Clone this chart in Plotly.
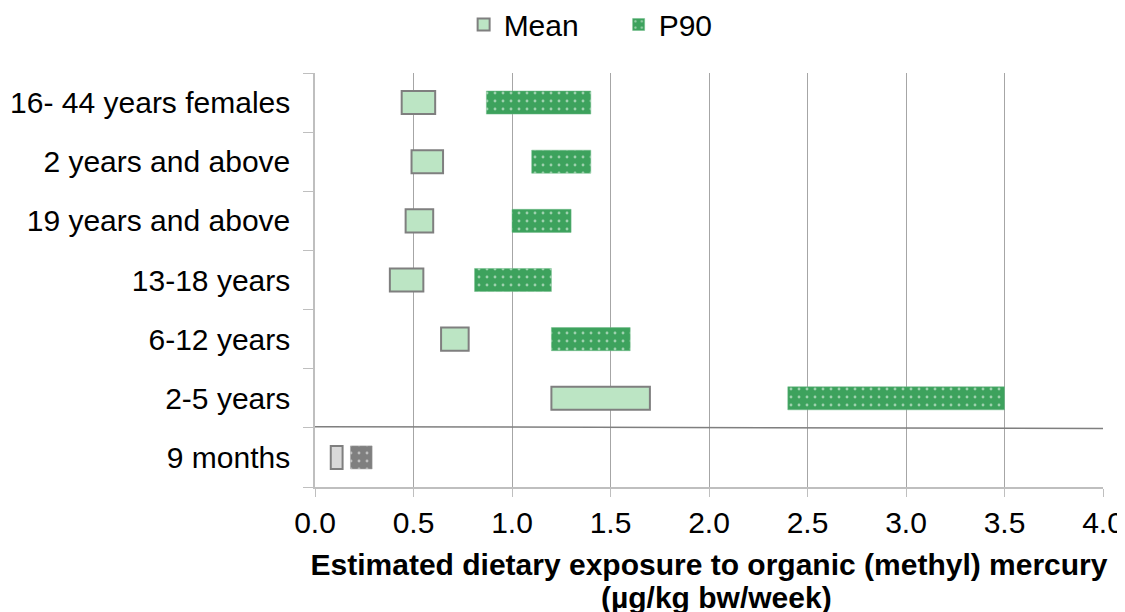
import plotly.graph_objects as go

categories = ["9 months", "2-5 years", "6-12 years", "13-18 years",
              "19 years and above", "2 years and above", "16- 44 years females"]
mean_low = [0.08, 1.20, 0.64, 0.38, 0.46, 0.49, 0.44]
mean_high = [0.14, 1.70, 0.78, 0.55, 0.60, 0.65, 0.61]
p90_low = [0.18, 2.40, 1.20, 0.81, 1.00, 1.10, 0.87]
p90_high = [0.29, 3.50, 1.60, 1.20, 1.30, 1.40, 1.40]
x_ticks = [0.0, 0.5, 1.0, 1.5, 2.0, 2.5, 3.0, 3.5, 4.0]

FONT = "Liberation Sans, Arial, sans-serif"
MEAN_FILL = "#BCE5C4"
P90_FILL = "#3DA25D"
GREY_LIGHT = "#D9D9D9"
GREY_DARK = "#7F7F7F"
BAR_W = 0.39

main_cats = categories[1:]
fig = go.Figure()

fig.add_trace(go.Bar(
    name="Mean", orientation="h", y=main_cats,
    base=mean_low[1:], x=[h - l for h, l in zip(mean_high[1:], mean_low[1:])],
    width=BAR_W, marker=dict(color=MEAN_FILL, line=dict(color=GREY_DARK, width=2)),
))
fig.add_trace(go.Bar(
    name="P90", orientation="h", y=main_cats,
    base=p90_low[1:], x=[h - l for h, l in zip(p90_high[1:], p90_low[1:])],
    width=BAR_W,
    marker=dict(color=P90_FILL, line=dict(color="#6FBB86", width=0.5),
                pattern=dict(shape=".", fgcolor="white", bgcolor=P90_FILL,
                             size=8, solidity=0.1, fillmode="overlay")),
))
# 9 months row (grey)
fig.add_trace(go.Bar(
    name="Mean 9m", orientation="h", y=categories[:1], showlegend=False,
    base=mean_low[:1], x=[mean_high[0] - mean_low[0]], width=BAR_W,
    marker=dict(color=GREY_LIGHT, line=dict(color=GREY_DARK, width=2)),
))
fig.add_trace(go.Bar(
    name="P90 9m", orientation="h", y=categories[:1], showlegend=False,
    base=p90_low[:1], x=[p90_high[0] - p90_low[0]], width=BAR_W,
    marker=dict(color=GREY_DARK, line=dict(color="#9a9a9a", width=0.5),
                pattern=dict(shape=".", fgcolor="white", bgcolor=GREY_DARK,
                             size=8, solidity=0.1, fillmode="overlay")),
))

# separator line between 2-5 years and 9 months
fig.add_shape(type="line", xref="x", yref="y", x0=0, x1=4.0, y0=0.52, y1=0.49,
              line=dict(color=GREY_DARK, width=1.5), layer="above")

# second line of the x-axis title
fig.add_annotation(text="<b>(µg/kg bw/week)</b>", xref="paper", yref="paper",
                   x=0.51, y=-0.268, xanchor="center", yanchor="middle",
                   showarrow=False, font=dict(size=30, family=FONT, color="#000000"))

fig.update_layout(
    width=1125, height=612,
    margin=dict(l=307, r=30, t=65, b=133, autoexpand=False),
    paper_bgcolor="white", plot_bgcolor="white",
    barmode="overlay",
    font=dict(family=FONT, size=30, color="#000000"),
    legend=dict(orientation="h", xref="container", yref="paper",
                x=0.405, xanchor="left", y=1.18, yanchor="top",
                font=dict(size=30), entrywidth=110, itemwidth=30,
                bgcolor="rgba(0,0,0,0)"),
    xaxis=dict(range=[0, 4.0], tickvals=x_ticks, ticktext=[f"{v:.1f}" for v in x_ticks],
               showgrid=True, gridcolor="#A6A6A6", gridwidth=1.3,
               showline=True, linecolor="#BFBFBF", linewidth=1.5,
               ticks="outside", ticklen=8, tickcolor="#BFBFBF",
               tickfont=dict(size=30), zeroline=False, automargin=False,
               title=dict(text="<b>Estimated dietary exposure to organic (methyl) mercury</b>",
                          font=dict(size=30), standoff=16)),
    yaxis=dict(type="category", categoryorder="array", categoryarray=categories,
               range=[-0.5, 6.5], showgrid=False, automargin=False,
               showline=True, linecolor="#BFBFBF", linewidth=1.5,
               ticks="outside", ticklen=10, tickcolor="#BFBFBF", tickson="boundaries",
               tickfont=dict(size=30), ticklabelstandoff=17, zeroline=False),
)

fig.write_html("out.html")
